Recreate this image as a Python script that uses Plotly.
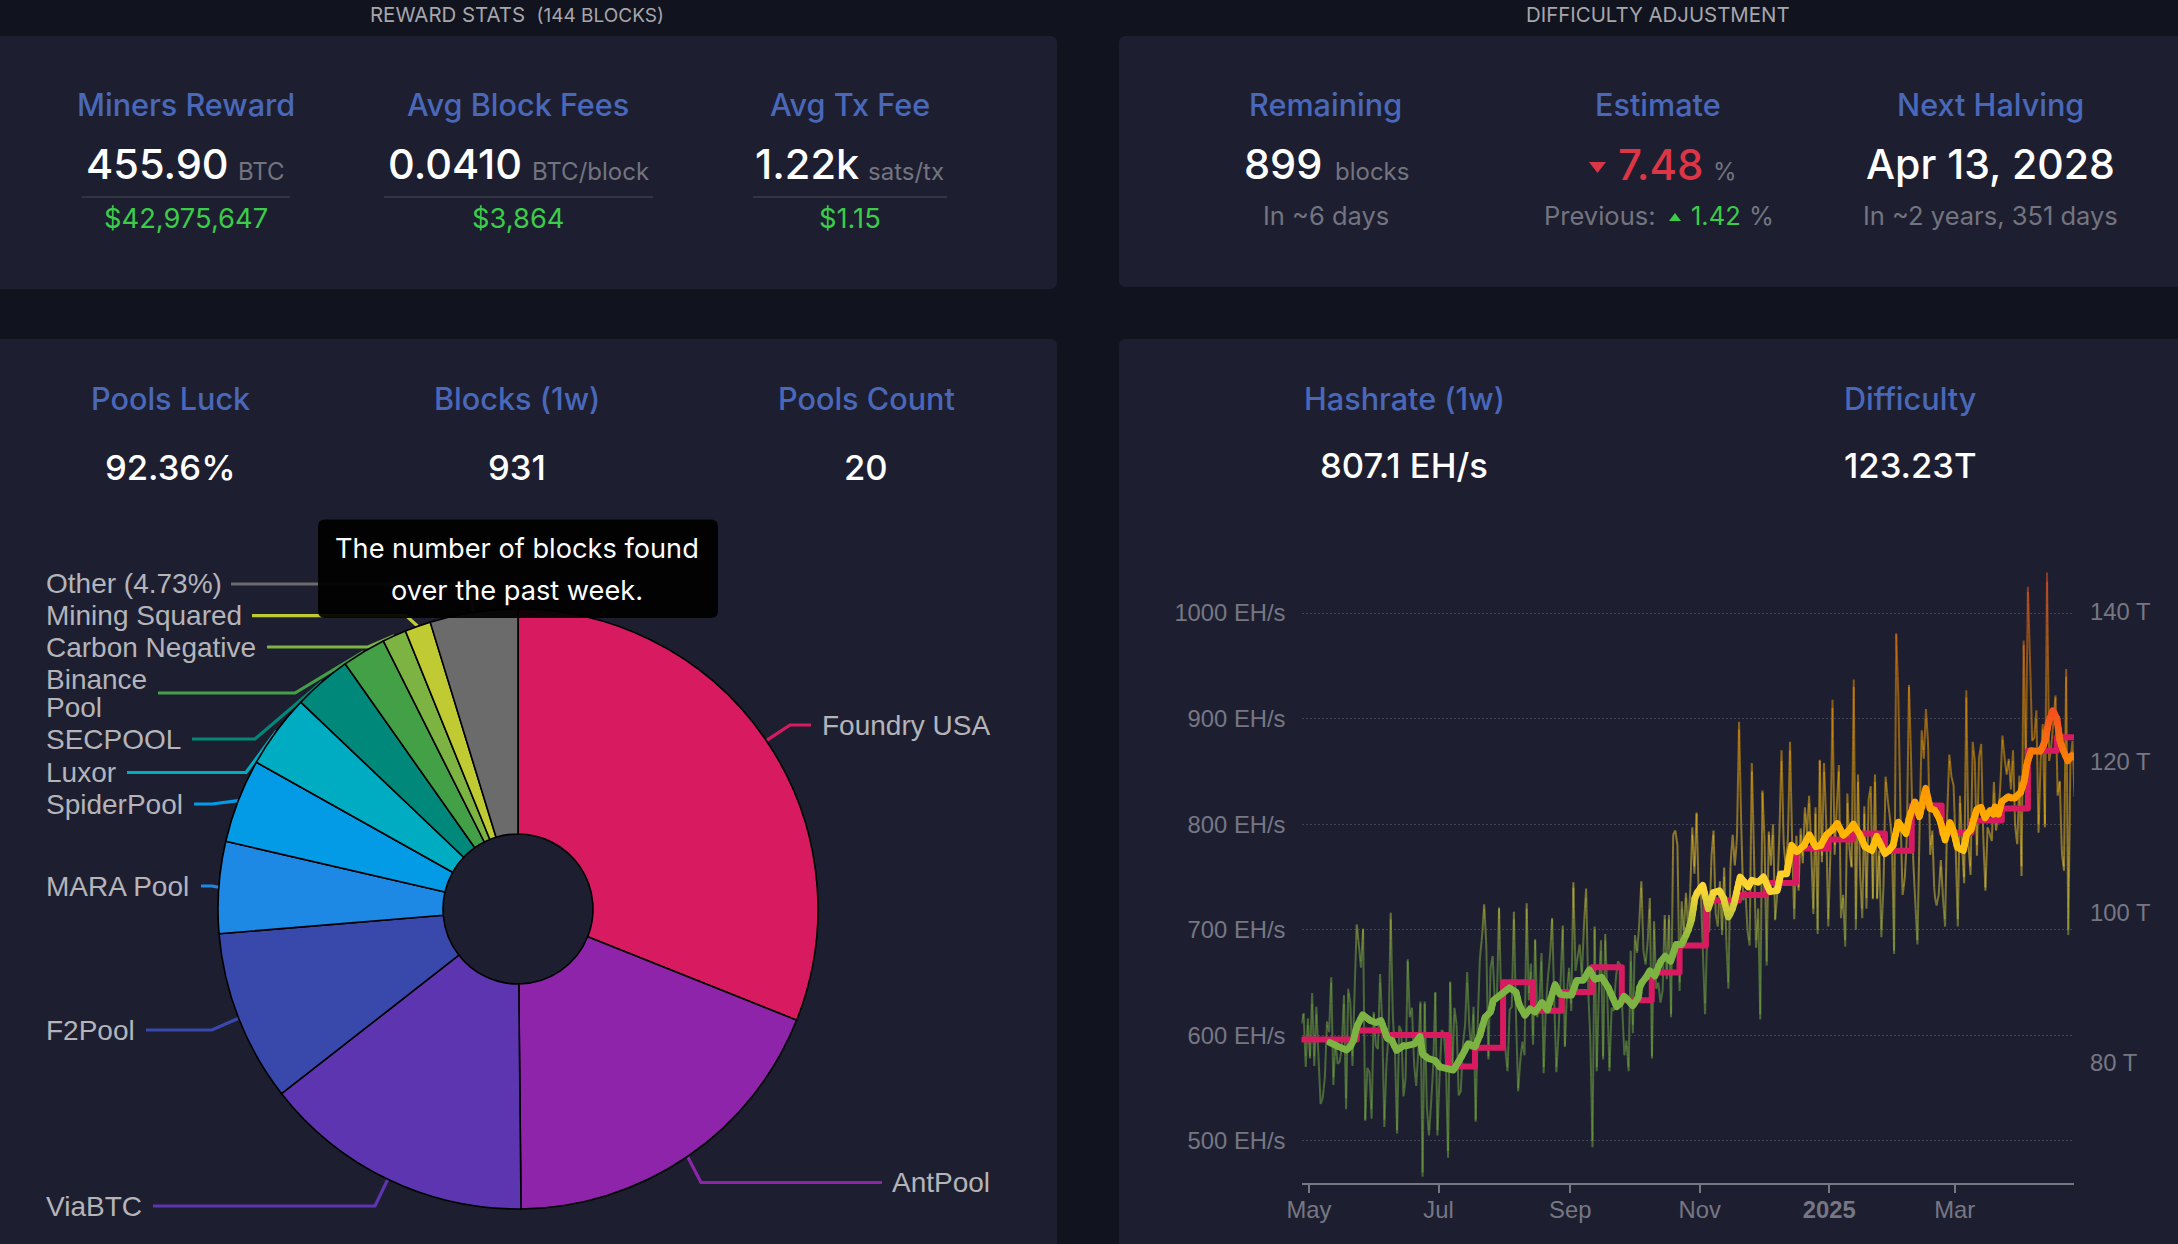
import numpy as np
import plotly.graph_objects as go

W, H = 2178, 1244

# ---------- data ----------
pool_names = ["Foundry USA", "AntPool", "ViaBTC", "F2Pool", "MARA Pool", "SpiderPool", "Luxor",
              "SECPOOL", "Binance Pool", "Carbon Negative", "Mining Squared", "Other (4.73%)"]
pool_blocks = [289, 175, 136, 86, 46, 42, 37, 29, 22, 12, 13, 44]

hashrate_daily_a = [611, 621, 570, 616, 578, 640, 571, 627, 579, 535, 541, 560, 613, 603, 655, 553, 595, 573, 575, 589,
                    638, 530, 644, 630, 571, 642, 705, 686, 664, 701, 519, 569, 565, 521, 622, 590, 587, 658, 611, 513,
                    573, 601, 716, 617, 586, 507, 609, 604, 542, 557, 672, 617, 626, 573, 552, 586, 632, 466, 632, 532,
                    505, 535, 570]
hashrate_daily_b = [641, 505, 561, 605, 602, 576, 484, 651, 564, 626, 611, 543, 547, 592, 608, 660, 608, 586, 627, 518,
                    614, 674, 693, 724, 686, 577, 664, 675, 633, 633, 721, 633, 617, 586, 566, 624, 627, 717, 617, 547,
                    576, 594, 581, 725, 633, 668, 591, 691, 617, 630, 678, 564, 624, 655, 674, 711, 633, 565, 602, 652,
                    704, 589]
hashrate_daily_c = [642, 664, 623, 745, 661, 674, 686, 655, 705, 739, 642, 595, 494, 703, 566, 642, 690, 577, 696, 636,
                    566, 626, 623, 655, 670, 667, 626, 581, 595, 566, 680, 602, 695, 678, 705, 746, 680, 667, 689, 730,
                    578, 708, 644, 650, 631, 642, 714, 653, 714, 617, 790, 794, 780, 642, 727, 696, 735, 699, 736, 797,
                    753]
hashrate_daily_d = [811, 734, 741, 677, 620, 696, 699, 769, 794, 715, 703, 746, 695, 759, 690, 644, 763, 790, 761, 785,
                    897, 801, 728, 737, 699, 685, 858, 775, 683, 720, 615, 832, 785, 666, 793, 761, 800, 709, 734, 791,
                    870, 782, 759, 785, 878, 782, 710, 789, 737, 796, 763, 816, 791, 827, 775, 715, 816, 696, 861, 764,
                    858]
hashrate_daily_e = [804, 703, 772, 918, 771, 816, 856, 711, 733, 684, 829, 775, 759, 937, 700, 847, 753, 711, 817, 720,
                    823, 836, 729, 847, 729, 775, 693, 741, 845, 823, 807, 785, 677, 981, 921, 810, 733, 747, 788, 932,
                    861, 766, 725, 686, 797, 889, 862, 909, 877, 771, 794, 733, 723, 733, 766, 731, 703, 810, 866, 845,
                    837, 778]
hashrate_daily_f = [703, 827, 781, 744, 927, 781, 752, 878, 860, 770, 863, 876, 787, 737, 797, 791, 784, 840, 794, 809,
                    835, 884, 863, 847, 862, 833, 870, 797, 781, 846, 751, 974, 854, 1025, 955, 879, 882, 908, 792, 860,
                    895, 797, 1039, 860, 873, 898, 922, 827, 841, 772, 756, 947, 695, 860, 879, 826]
hashrate_daily = (hashrate_daily_a + hashrate_daily_b + hashrate_daily_c +
                  hashrate_daily_d + hashrate_daily_e + hashrate_daily_f)

hashrate_avg_day = [13.4, 16.6, 21.3, 24.1, 26, 28.8, 32.3, 35.1, 37.4, 40.4, 42.5, 44.8, 48, 49.5, 53.4, 55.8, 57, 59.7,
                    62.9, 65.2, 69.9, 71.5, 75.4, 78.5, 81.7, 84, 86.4, 89, 90.3, 94.2, 97.9, 101, 102.6, 105.2, 107.6,
                    110, 113.2, 115.8, 119.4, 121.7, 124.2, 127.2, 129.6, 132.7, 135.5, 138.2, 141.3, 144.5, 148.4, 150,
                    151.9, 153.9, 156, 158.6, 159.4, 161.7, 164, 166.4, 168.8, 171.2, 173.8, 176.4, 179, 182, 183.7,
                    185.3, 186.8, 188.9, 191.5, 193.9, 196.7, 198.6, 201, 203.3, 206.5, 210.4, 212, 215, 217.5, 220.6,
                    224, 225.6, 228.4, 230.8, 233.1, 236.3, 239.1, 242.2, 244.5, 247, 249.6, 252.3, 255.1, 257.5, 259.8,
                    263, 265.3, 268.5, 270.8, 274.7, 278.3, 281, 284.6, 286.2, 288.8, 290.9, 293.9, 296, 298.3, 300.6,
                    303, 305.3, 306.9, 308.8, 311.6, 313.2, 315.2, 317.9, 319.9, 321.8, 324.2, 325.7, 326.5, 328.1,
                    329.7, 332.8, 335.2, 338.3, 340.3, 341.5, 343.5, 347.7, 350, 351.7, 353.7, 355.6, 357.1, 358.7,
                    360.8, 362.6, 364.5]
hashrate_avg = [593, 590, 586, 592, 608, 619.5, 614, 612, 614, 597, 595, 585.5, 590, 590, 592, 599, 582, 578,
                576, 570, 567, 567, 580, 592, 589, 600, 617, 622, 633, 639, 645, 641, 628, 619, 625,
                622, 631, 624, 648, 639, 638, 638, 652, 652, 662, 653, 655, 645, 627, 630,
                637, 633, 628, 636, 648, 653, 661, 656, 669, 675, 670, 686, 686, 699, 710,
                731, 737, 742, 720, 735, 737, 731, 712, 721.5, 750, 740.5, 747, 745, 750, 736,
                737, 753, 753, 780, 774, 778.5, 790, 778.5, 780, 789.6, 794, 800.6, 789.6, 793, 800,
                789.6, 778.5, 775, 788.6, 772, 778, 802, 791, 807, 821, 807, 834, 815, 813, 804,
                785, 801.6, 793.7, 778, 775, 790.5, 795, 814, 816, 806, 813, 809.5, 816.5, 809.5,
                821.5, 826, 824, 828.5, 841, 857, 869.6, 869, 877.5, 896.5, 907.6, 901, 879, 869.6,
                860, 865, 863]

difficulty_day = [0, 26, 39.3, 69, 81.7, 94.9, 109, 122.5, 136.7, 150.8, 164.9, 178, 190.4, 206, 218.7, 232.8, 248,
                  259.7, 274.7, 287.3, 301.4, 315.5, 329.7, 342, 355.6, 363.5]
difficulty = [83.1, 84.3, 83.7, 79.5, 82.0, 90.7, 86.9, 89.4, 92.7, 88.3, 92.0, 95.6, 101.6, 102.3, 103.9, 108.5, 109.7,
              110.5, 108.2, 114.2, 110.6, 112.2, 113.8, 121.5, 123.3, 123.3]

hash_ticks = [500, 600, 700, 800, 900, 1000]
diff_ticks = [80, 100, 120, 140]
month_ticks = ["2024-05-01", "2024-07-01", "2024-09-01", "2024-11-01", "2025-01-01", "2025-03-01"]
month_labels = ["May", "Jul", "Sep", "Nov", "<b>2025</b>", "Mar"]

# ---------- style ----------
PAGE = "#11131f"
CARD = "#1d1f31"
BLUE = "#4a68b9"
WHITE = "#ffffff"
SUB = "#73747f"
GREEN = "#3bcc49"
RED = "#dc3545"
TICK = "#767783"
RULE = "#33343f"
PIE_TEXT = "#b4b4b9"
pool_colors = ["#D81B60", "#8E24AA", "#5E35B1", "#3949AB", "#1E88E5", "#039BE5", "#00ACC1", "#00897B",
               "#43A047", "#7CB342", "#C0CA33", "#6b6b6b"]
STOPS = [(0.0, (0xF4, 0x51, 0x1E)), (0.25, (0xFB, 0x8C, 0x00)), (0.5, (0xFF, 0xB3, 0x00)),
         (0.75, (0xFD, 0xD8, 0x35)), (1.0, (0x7C, 0xB3, 0x42))]
CARD_FONT = "Inter"
AXIS_FONT = "Liberation Sans"


def px(x):
    return x / W


def py(y):
    return 1 - y / H


shapes, annotations = [], []


def rounded(x0, y0, x1, y1, r, fill, layer="below"):
    p = (f"M{px(x0 + r)},{py(y0)} L{px(x1 - r)},{py(y0)} Q{px(x1)},{py(y0)} {px(x1)},{py(y0 + r)} "
         f"L{px(x1)},{py(y1 - r)} Q{px(x1)},{py(y1)} {px(x1 - r)},{py(y1)} L{px(x0 + r)},{py(y1)} "
         f"Q{px(x0)},{py(y1)} {px(x0)},{py(y1 - r)} L{px(x0)},{py(y0 + r)} Q{px(x0)},{py(y0)} {px(x0 + r)},{py(y0)} Z")
    shapes.append(dict(type="path", xref="paper", yref="paper", path=p, fillcolor=fill,
                       line=dict(width=0), layer=layer))


def poly(points, color, width=None, fill=None, layer="below"):
    p = "M" + " L".join(f"{px(a)},{py(b)}" for a, b in points)
    if fill:
        p += " Z"
    shapes.append(dict(type="path", xref="paper", yref="paper", path=p, fillcolor=fill,
                       line=dict(color=color, width=width or 0), layer=layer))


def text(s, x, y, size, color, anchor="center", font=CARD_FONT, weight=400):
    annotations.append(dict(text=s, x=px(x), y=py(y), xref="paper", yref="paper", showarrow=False,
                            xanchor=anchor, yanchor="middle", align=anchor if anchor != "center" else "center",
                            font=dict(size=size, color=color, family=font, weight=weight),
                            borderpad=0, borderwidth=0))


# ---------- cards ----------
rounded(-20, 36, 1057, 289, 7, CARD)
rounded(-20, 339, 1057, 1300, 7, CARD)
rounded(1119, 36, 2200, 287, 7, CARD)
rounded(1119, 339, 2200, 1300, 7, CARD)

TITLE_SIZE, VALUE_SIZE, UNIT_SIZE, SUB_SIZE = 30.6, 41.5, 24, 25.5

text("REWARD STATS &nbsp;<span style='font-size:19px'>(144 BLOCKS)</span>", 517, 14.5, 20.4, "#a6a6ab")
text("DIFFICULTY ADJUSTMENT", 1658, 14.5, 20.4, "#a6a6ab")

for s, x in [("Miners Reward", 186), ("Avg Block Fees", 518), ("Avg Tx Fee", 850),
             ("Remaining", 1325), ("Estimate", 1658), ("Next Halving", 1990)]:
    text(s, x, 105, TITLE_SIZE, BLUE, weight=500)
for s, x in [("Pools Luck", 170), ("Blocks (1w)", 517), ("Pools Count", 866),
             ("Hashrate (1w)", 1404), ("Difficulty", 1910)]:
    text(s, x, 399, TITLE_SIZE, BLUE, weight=500)

for s, x in [("455.90", 86), ("0.0410", 388), ("1.22k", 755), ("899", 1244)]:
    text(s, x, 164, VALUE_SIZE, WHITE, "left", weight=500)
for s, x in [("BTC", 238), ("BTC/block", 532), ("sats/tx", 868), ("blocks", 1335)]:
    text(s, x, 171, UNIT_SIZE, SUB, "left")
for x0, x1 in [(82, 290), (384, 653), (753, 947)]:
    poly([(x0, 197), (x1, 197)], RULE, 2)
for s, x in [("$42,975,647", 186), ("$3,864", 518), ("$1.15", 850)]:
    text(s, x, 219, 27.3, GREEN)

text("7.48", 1618, 164, 42, RED, "left", weight=500)
text("%", 1713, 171, UNIT_SIZE, SUB, "left")
poly([(1589, 162), (1606, 162), (1597.5, 173)], RED, fill=RED)
text("Apr 13, 2028", 1990, 164, 41, WHITE, weight=500)
text("In ~6 days", 1326, 215, SUB_SIZE, SUB)
text("Previous:", 1544, 215, SUB_SIZE, SUB, "left")
poly([(1669, 221), (1681, 221), (1675, 213)], GREEN, fill=GREEN)
text("1.42", 1691, 215, SUB_SIZE, GREEN, "left")
text("%", 1749, 215, SUB_SIZE, SUB, "left")
text("In ~2 years, 351 days", 1990, 215, SUB_SIZE, SUB)

for s, x, y in [("92.36%", 170, 467), ("931", 517, 467), ("20", 866, 467),
                ("807.1 EH/s", 1404, 465), ("123.23T", 1910, 465)]:
    text(s, x, y, 34.6, WHITE, weight=500)

# ---------- pie ----------
CX, CY, R = 518, 909, 300
PIE_SIZE = 28
label_anchor = ["right", "right"] + ["left"] * 10
label_x = [990, 990] + [46] * 10
label_y = [725, 1182.5, 1206, 1030, 886, 804, 772.5, 739, 693, 647, 615.6, 584]
text_y = [725, 1182.5, 1206, 1030, 886, 804, 772.5, 739, 693, 647, 615.6, 583]
leader_start = [811, 882, 153, 146, 201, 194, 127, 192, 158, 267, 252, 231]
leader_elbow = [790, 701, 375, 212, 212, 212, 246, 255, 295, 368, 406, 468]

total = sum(pool_blocks)
acc = 0.0
for i, v in enumerate(pool_blocks):
    mid = (acc + v / 2) / total * 2 * np.pi
    acc += v
    ex, ey = CX + R * np.sin(mid), CY - R * np.cos(mid)
    poly([(leader_start[i], label_y[i]), (leader_elbow[i], label_y[i]), (ex, ey)], pool_colors[i], 3.2)
    name = pool_names[i]
    if name == "Binance Pool":
        text("Binance", label_x[i], 679, PIE_SIZE, PIE_TEXT, "left", AXIS_FONT)
        text("Pool", label_x[i], 707, PIE_SIZE, PIE_TEXT, "left", AXIS_FONT)
    else:
        text(name, label_x[i], text_y[i], PIE_SIZE, PIE_TEXT, label_anchor[i], AXIS_FONT)

# tooltip
rounded(318, 519.5, 718, 618, 7, "rgba(0,0,0,0.93)", layer="above")
text("The number of blocks found", 517, 548, 27.2, WHITE)
text("over the past week.", 517, 590, 27.2, WHITE)

fig = go.Figure()
fig.add_trace(go.Pie(values=pool_blocks, labels=pool_names, sort=False, direction="clockwise", rotation=0,
                     hole=0.25, textinfo="none", showlegend=False, hoverinfo="skip",
                     marker=dict(colors=pool_colors, line=dict(color="#000000", width=1.6)),
                     domain=dict(x=[px(CX - R), px(CX + R)], y=[py(CY + R), py(CY - R)])))

# ---------- hashrate chart ----------
START_MS = np.datetime64("2024-04-27T12:00").astype("datetime64[ms]").astype(np.int64)
DAY_MS = 86400000


def to_ms(d):
    return START_MS + d * DAY_MS


def grad_color(v, vmin, vmax, alpha):
    t = min(1.0, (vmax - v) / (vmax - vmin) / 0.65)
    for (a, ca), (b, cb) in zip(STOPS, STOPS[1:]):
        if t <= b:
            f = (t - a) / (b - a)
            c = [round(ca[k] + (cb[k] - ca[k]) * f) for k in range(3)]
            break
    return f"rgba({c[0]},{c[1]},{c[2]},{alpha})"


def add_gradient_line(days, vals, width, alpha, yaxis, step):
    vmin, vmax = min(vals), max(vals)
    bands = {}
    for x0, y0, x1, y1 in zip(days, vals, days[1:], vals[1:]):
        cuts = [0.0, 1.0]
        if y1 != y0:
            lo, hi = sorted((y0, y1))
            k = np.ceil(lo / step)
            while k * step < hi:
                cuts.append((k * step - y0) / (y1 - y0))
                k += 1
        cuts.sort()
        for a, b in zip(cuts, cuts[1:]):
            xa, ya = x0 + (x1 - x0) * a, y0 + (y1 - y0) * a
            xb, yb = x0 + (x1 - x0) * b, y0 + (y1 - y0) * b
            key = int(np.floor((ya + yb) / 2 / step))
            xs, ys = bands.setdefault(key, ([], []))
            if xs and xs[-1] == to_ms(xa) and ys[-1] == ya:
                xs.append(to_ms(xb)); ys.append(yb)
            else:
                if xs:
                    xs.append(None); ys.append(None)
                xs += [to_ms(xa), to_ms(xb)]
                ys += [ya, yb]
    for key in sorted(bands):
        xs, ys = bands[key]
        fig.add_trace(go.Scatter(x=xs, y=ys, mode="lines", yaxis=yaxis, hoverinfo="skip", showlegend=False,
                                 connectgaps=False,
                                 line=dict(color=grad_color((key + 0.5) * step, vmin, vmax, alpha), width=width)))


add_gradient_line(list(range(len(hashrate_daily))), hashrate_daily, 2, 0.5, "y", 10)
fig.add_trace(go.Scatter(x=[to_ms(d) for d in difficulty_day], y=difficulty, mode="lines", yaxis="y2",
                         hoverinfo="skip", showlegend=False,
                         line=dict(color="#D81B60", width=6, shape="hv")))
add_gradient_line(hashrate_avg_day, hashrate_avg, 6.8, 1, "y3", 5)

X0, X1, YT, YB = 1301.5, 2074, 572.5, 1183
HASH_RANGE = [460, 1038.5]
DIFF_RANGE = [64, 145.2]
hash_vals = hash_ticks + [HASH_RANGE[1]]
hash_text = [f"{v} EH/s" for v in hash_ticks] + [""]

fig.update_layout(
    template="none",
    width=W, height=H, autosize=False, margin=dict(l=0, r=0, t=0, b=0, pad=0, autoexpand=False),
    paper_bgcolor=PAGE, plot_bgcolor="rgba(0,0,0,0)", showlegend=False,
    shapes=shapes, annotations=annotations, hovermode=False,
    xaxis=dict(type="date", domain=[px(X0), px(X1)], range=[int(to_ms(0)), int(to_ms(363.7))], automargin=False,
               tickvals=month_ticks, ticktext=month_labels, showgrid=False, zeroline=False,
               showline=True, linecolor=TICK, linewidth=1.5, ticks="outside", ticklen=8, tickwidth=1.5,
               tickcolor=TICK, ticklabelstandoff=-3, tickfont=dict(family=AXIS_FONT, size=23.8, color=TICK)),
    yaxis=dict(domain=[py(YB), py(YT)], range=HASH_RANGE, tickvals=hash_vals, ticktext=hash_text, automargin=False,
               showgrid=True, gridcolor="rgba(255,255,255,0.17)", griddash="2px,2px", gridwidth=1.4,
               zeroline=False, showline=False, ticks="", ticklabelstandoff=15,
               tickfont=dict(family=AXIS_FONT, size=23.8, color=TICK)),
    yaxis2=dict(domain=[py(YB), py(YT)], range=DIFF_RANGE, overlaying="y", side="right", anchor="x", automargin=False,
                tickvals=diff_ticks, ticktext=[f"{v} T" for v in diff_ticks], showgrid=False, zeroline=False,
                showline=False, ticks="", ticklabelstandoff=15,
                tickfont=dict(family=AXIS_FONT, size=23.8, color=TICK)),
    yaxis3=dict(domain=[py(YB), py(YT)], range=HASH_RANGE, overlaying="y", visible=False),
)

fig.write_html("out.html", config={"displayModeBar": False}, post_script=(
    f"document.body.style.margin='0';document.body.style.background='{PAGE}';"
    "document.documentElement.style.overflow='hidden';"
    "document.querySelectorAll('.js-line').forEach(function(p){"
    "if(parseFloat(p.style.strokeWidth)>3){p.style.strokeLinejoin='round';p.style.strokeLinecap='round';}});"))
